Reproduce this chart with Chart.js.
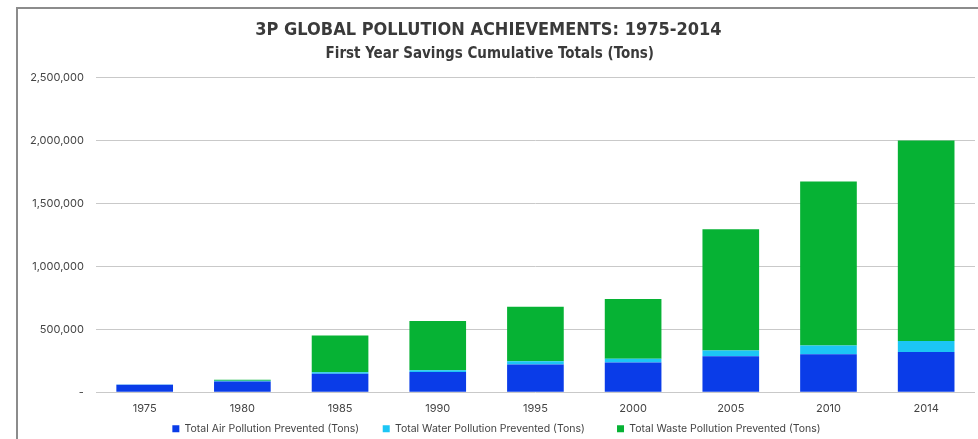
<!DOCTYPE html>
<html>
<head>
<meta charset="utf-8">
<script src="https://cdn.jsdelivr.net/npm/chart.js@4/dist/chart.umd.min.js"></script>
<style>
  html, body { margin: 0; padding: 0; background: #fff; }
  body { width: 978px; height: 439px; overflow: hidden; position: relative; }
  #frame {
    position: absolute; left: 16px; top: 7px;
    width: 960px; height: 435px;
    border-left: 2px solid #8c8c8c; border-top: 2px solid #8c8c8c;
  }
</style>
</head>
<body>
<div id="frame"><canvas id="chart"></canvas></div>
<script>
// categories and series (tons)
const years = ['1975', '1980', '1985', '1990', '1995', '2000', '2005', '2010', '2014'];
const airTons = [60000, 85000, 148000, 161000, 220000, 236000, 286000, 302000, 320000];
const waterTons = [2000, 6000, 11000, 14000, 26000, 31000, 47000, 69000, 87000];
const wasteTons = [0, 8000, 293000, 391000, 434000, 475000, 962000, 1304000, 1593000];
const yTicks = [0, 500000, 1000000, 1500000, 2000000, 2500000];

const labelFont = "'Inter', 'Liberation Sans', sans-serif";
const headFont = "'Liberation Sans Narrow', 'DejaVu Sans Condensed', sans-serif";
// extra room after each legend entry
const legendGaps = ['\u2003\u2002\u2009', '\u2003\u2003\u2002', ''];

document.addEventListener("DOMContentLoaded", () => {
    const ctx = document.getElementById('chart').getContext('2d');

    new Chart(ctx, {
        type: 'bar',
        data: {
            labels: years,
            datasets: [
                { label: 'Total Air Pollution Prevented (Tons)', data: airTons, backgroundColor: '#0a3ce8' },
                { label: 'Total Water Pollution Prevented (Tons)', data: waterTons, backgroundColor: '#1cc6f5' },
                { label: 'Total Waste Pollution Prevented (Tons)', data: wasteTons, backgroundColor: '#06b234' }
            ]
        },
        options: {
            responsive: true,
            maintainAspectRatio: false,
            animation: false,
            datasets: { bar: { categoryPercentage: 1, barPercentage: 0.58 } },
            layout: { padding: { left: 0, right: 3, top: 0, bottom: 0 } },
            plugins: {
                title: {
                    display: true,
                    // trailing em space nudges the centred heading a little left, as in the original
                    text: '3P GLOBAL POLLUTION ACHIEVEMENTS: 1975-2014\u2003',
                    color: '#3a3a3a',
                    font: { family: headFont, size: 18, weight: 'bold' },
                    padding: { top: 11, bottom: 4 }
                },
                subtitle: {
                    display: true,
                    text: 'First Year Savings Cumulative Totals (Tons)\u2003',
                    color: '#3a3a3a',
                    font: { family: headFont, size: 15, weight: 'bold' },
                    padding: { top: 0, bottom: 14 }
                },
                legend: {
                    position: 'bottom',
                    labels: {
                        boxWidth: 7, boxHeight: 7,
                        color: '#444',
                        font: { family: labelFont, size: 10.5 },
                        padding: 6,
                        generateLabels: chart => {
                            const items = Chart.defaults.plugins.legend.labels.generateLabels(chart);
                            items.forEach((it, i) => { it.text = it.text + (legendGaps[i] || ''); });
                            return items;
                        }
                    }
                },
                tooltip: { enabled: false }
            },
            scales: {
                x: {
                    stacked: true,
                    grid: { display: false },
                    border: { display: false },
                    ticks: { color: '#444', font: { family: labelFont, size: 11 }, padding: 2 }
                },
                y: {
                    stacked: true,
                    min: 0, max: 2500000,
                    afterBuildTicks: axis => { axis.ticks = yTicks.map(v => ({ value: v })); },
                    grid: { color: '#c9c9c9', lineWidth: 1, drawTicks: false },
                    border: { display: false },
                    ticks: {
                        color: '#444',
                        font: { family: labelFont, size: 11 },
                        padding: 12,
                        callback: v => v === 0 ? '-' : v.toLocaleString('en-US')
                    }
                }
            }
        }
    });
});
</script>
</body>
</html>
